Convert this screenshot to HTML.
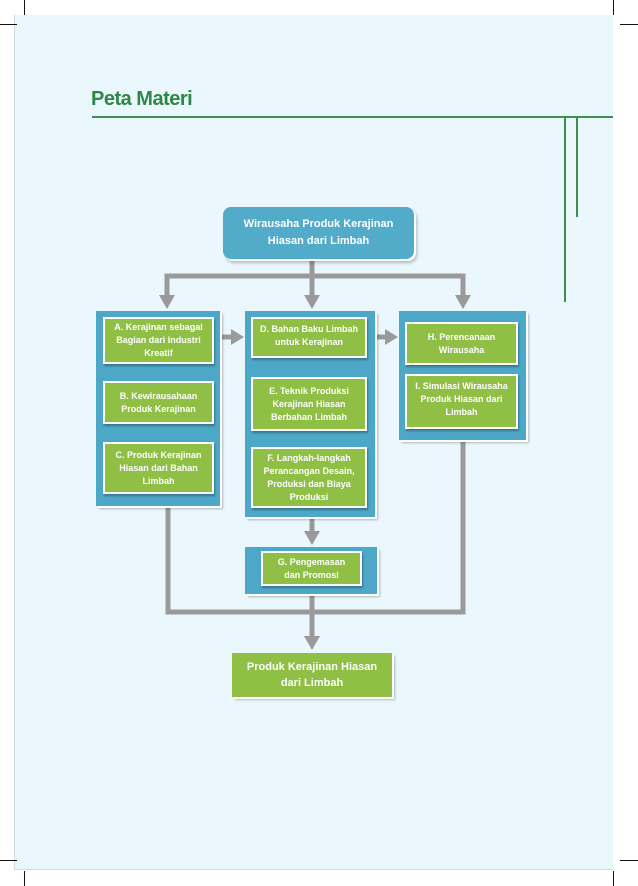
<!DOCTYPE html>
<html><head><meta charset="utf-8"><style>
body{margin:0;width:638px;height:886px;background:#fff;position:relative;overflow:hidden;font-family:"Liberation Sans",sans-serif}
.a{position:absolute}
.page{left:14px;top:15px;width:599px;height:855px;background:#eaf7fd;border-left:1px solid #cfdbe2;border-bottom:1px solid #cfdbe2;box-sizing:border-box}
.panel{position:absolute;background:#4da8c8;box-shadow:2px 2px 0 #fff,3px 3px 2px rgba(0,0,0,.25)}
.g{position:absolute;background:#8fbf45;border:2px solid #fff;box-sizing:border-box;color:#fff;font-weight:bold;font-size:9px;line-height:13px;display:flex;align-items:center;justify-content:center;text-align:center;box-shadow:1px 2px 2px rgba(0,0,0,.3)}
.k{position:absolute;background:#111}
</style></head><body>
<div class="a page"></div>
<div class="k" style="left:24px;top:0;width:1px;height:15px"></div>
<div class="k" style="left:613px;top:0;width:1px;height:15px"></div>
<div class="k" style="left:0;top:24px;width:17px;height:1px"></div>
<div class="k" style="left:620px;top:24px;width:18px;height:1px"></div>
<div class="k" style="left:0;top:860px;width:17px;height:1px"></div>
<div class="k" style="left:620px;top:860px;width:18px;height:1px"></div>
<div class="k" style="left:24px;top:871px;width:1px;height:15px"></div>
<div class="k" style="left:613px;top:871px;width:1px;height:15px"></div>

<div class="a" style="left:91px;top:88px;font-size:20px;font-weight:bold;color:#2e8845;letter-spacing:-0.5px">Peta Materi</div>
<div class="a" style="left:92px;top:116px;width:521px;height:2px;background:#3f8f55"></div>
<div class="a" style="left:564px;top:118px;width:2px;height:184px;background:#3f8f55"></div>
<div class="a" style="left:576px;top:118px;width:2px;height:99px;background:#3f8f55"></div>

<svg class="a" style="left:0;top:0" width="638" height="886">
<g stroke="#9a9a9a" stroke-width="5" fill="none">
<path d="M312 259V276M167 297V276H463V297M312 276V297"/>
<path d="M168 506V612H463V440"/>
<path d="M312 517V533M312 594V638"/>
<path d="M221 337H233M376 337H387"/>
</g>
<g fill="#9a9a9a">
<path d="M159 295H175L167 309Z"/><path d="M304 295H320L312 309Z"/><path d="M455 295H471L463 309Z"/>
<path d="M304 531H320L312 545Z"/><path d="M304 636H320L312 650Z"/>
<path d="M231 329V345L244 337Z"/><path d="M385 329V345L398 337Z"/>
</g>
</svg>

<div class="a" style="left:223px;top:207px;width:191px;height:52px;background:#52abc9;border-radius:8px;box-shadow:2px 2px 0 #fff,3px 4px 3px rgba(0,0,0,.25);color:#fff;font-weight:bold;font-size:11px;line-height:17px;display:flex;align-items:center;justify-content:center;text-align:center">Wirausaha Produk Kerajinan<br>Hiasan dari Limbah</div>

<div class="panel" style="left:96px;top:311px;width:124px;height:195px"></div>
<div class="g" style="left:103px;top:317px;width:111px;height:47px">A. Kerajinan sebagai<br>Bagian dari Industri<br>Kreatif</div>
<div class="g" style="left:103px;top:381px;width:111px;height:43px">B. Kewirausahaan<br>Produk Kerajinan</div>
<div class="g" style="left:103px;top:442px;width:111px;height:52px">C. Produk Kerajinan<br>Hiasan dari Bahan<br>Limbah</div>

<div class="panel" style="left:245px;top:311px;width:130px;height:206px"></div>
<div class="g" style="left:251px;top:317px;width:116px;height:41px;align-items:flex-start;padding-top:4px">D. Bahan Baku Limbah<br>untuk Kerajinan</div>
<div class="g" style="left:251px;top:377px;width:116px;height:54px">E. Teknik Produksi<br>Kerajinan Hiasan<br>Berbahan Limbah</div>
<div class="g" style="left:251px;top:447px;width:116px;height:61px">F. Langkah-langkah<br>Perancangan Desain,<br>Produksi dan Biaya<br>Produksi</div>

<div class="panel" style="left:399px;top:311px;width:127px;height:129px"></div>
<div class="g" style="left:405px;top:322px;width:113px;height:43px">H. Perencanaan<br>Wirausaha</div>
<div class="g" style="left:405px;top:374px;width:113px;height:55px;align-items:flex-start;padding-top:4px">I. Simulasi Wirausaha<br>Produk Hiasan dari<br>Limbah</div>

<div class="panel" style="left:245px;top:547px;width:132px;height:47px"></div>
<div class="g" style="left:261px;top:551px;width:101px;height:35px">G. Pengemasan<br>dan Promosi</div>

<div class="a" style="left:232px;top:653px;width:160px;height:44px;background:#8fbf45;box-shadow:2px 2px 0 #fff,3px 3px 2px rgba(0,0,0,.25);color:#fff;font-weight:bold;font-size:11px;line-height:16px;display:flex;align-items:center;justify-content:center;text-align:center">Produk Kerajinan Hiasan<br>dari Limbah</div>
</body></html>
